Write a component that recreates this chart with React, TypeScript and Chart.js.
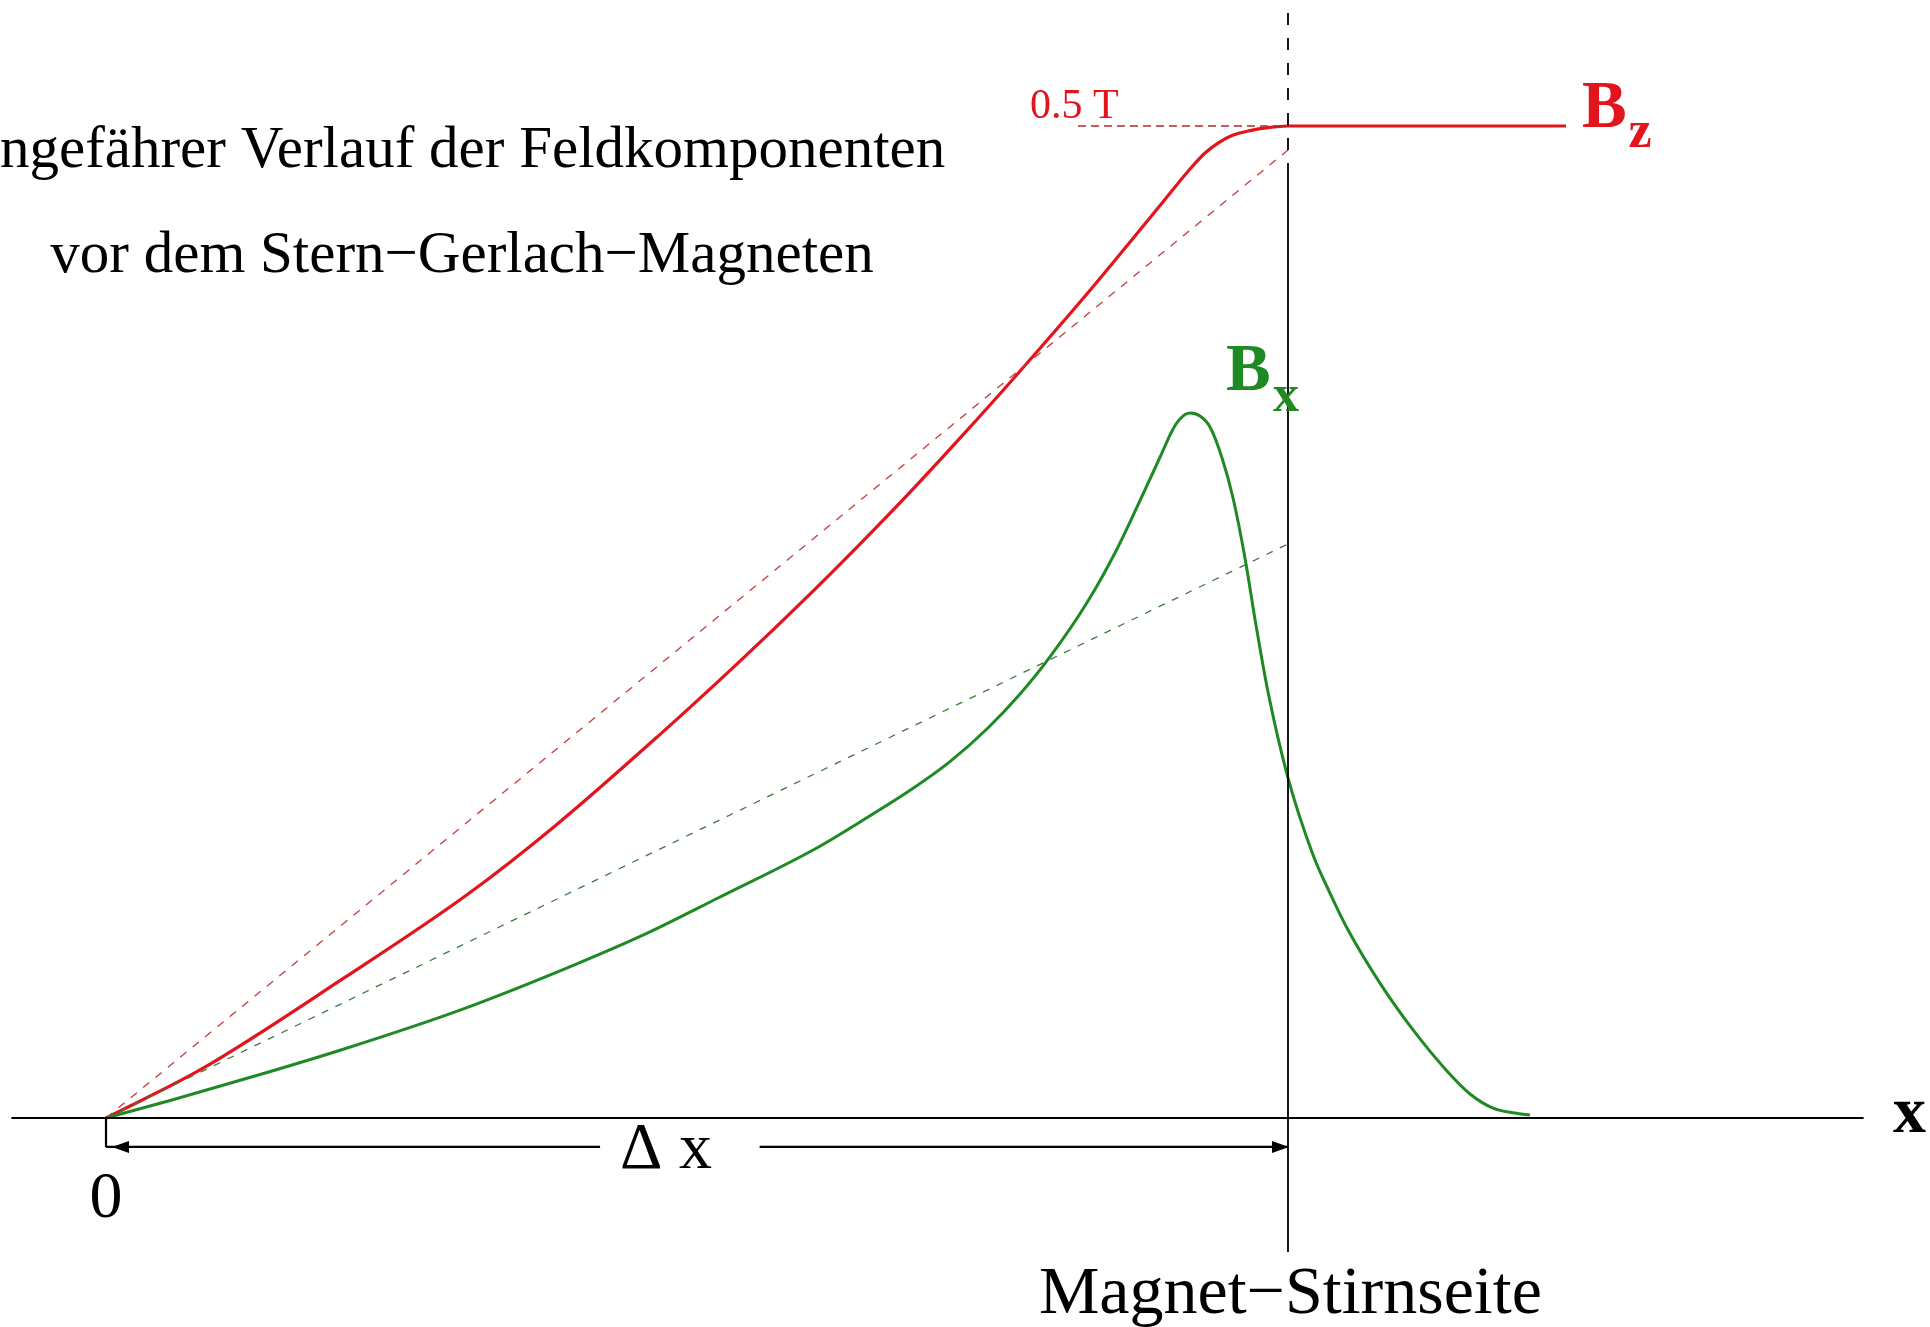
import React, { useEffect, useRef } from "react";
import { Chart, registerables } from "chart.js";

Chart.register(...registerables);

// x: distance in units of Δx (0 = origin, 1 = magnet face); y: field in tesla
const bzX = [0, 0.0795, 0.2014, 0.3063, 0.3799, 0.4662, 0.5355, 0.5956, 0.6387, 0.6819, 0.725, 0.7682, 0.8291, 0.8942, 0.9171, 0.9298, 0.9408, 0.9526, 0.9679, 0.9831, 1.0, 1.2352];
const bzY = [0, 0.0242, 0.0706, 0.1129, 0.1472, 0.192, 0.2298, 0.2641, 0.2898, 0.3165, 0.3443, 0.373, 0.4148, 0.4617, 0.4783, 0.4864, 0.4914, 0.4952, 0.4977, 0.4992, 0.5, 0.5];

const bxX = [0, 0.0558, 0.1303, 0.2014, 0.2995, 0.3959, 0.4602, 0.5178, 0.5998, 0.6379, 0.6819, 0.714, 0.747, 0.7733, 0.7986, 0.8308, 0.8536, 0.8731, 0.8926, 0.9019, 0.9086, 0.9171, 0.9255, 0.934, 0.9442, 0.9535, 0.9636, 0.9729, 0.9831, 1.0, 1.0212, 1.0355, 1.0499, 1.0778, 1.1058, 1.1345, 1.154, 1.1734, 1.192, 1.2047];
const bxY = [0, 0.0091, 0.0219, 0.0348, 0.0544, 0.0771, 0.0938, 0.1109, 0.1356, 0.1492, 0.1658, 0.1796, 0.1971, 0.2137, 0.2324, 0.2606, 0.2848, 0.309, 0.3342, 0.3463, 0.3523, 0.3553, 0.3538, 0.3483, 0.3327, 0.3125, 0.2823, 0.2485, 0.2147, 0.1714, 0.1326, 0.1134, 0.0958, 0.068, 0.0444, 0.0237, 0.0121, 0.005, 0.0025, 0.0015];

// tangent (dashed) lines at the origin
const bzTangentX = [0, 1];
const bzTangentY = [0, 0.4879];
const bxTangentX = [0, 1];
const bxTangentY = [0, 0.2893];

// 0.5 T reference line
const refX = [0.8223, 1.0];
const refY = [0.5, 0.5];

// axes and magnet face
const axisX = [-0.08, 1.487];
const axisY = [0, 0];
const faceDashX = [1, 1];
const faceDashY = [0.557, 0.4763];
const faceSolidX = [1, 1];
const faceSolidY = [0.4763, -0.0675];

// Δx dimension line
const dimY = -0.0146;
const dimTickX = [0, 0];
const dimTickY = [0, dimY];
const dimLeftX = [0, 0.418];
const dimRightX = [0.553, 1.0];

const X_MIN = -106 / 1182;
const X_MAX = (1930 - 106) / 1182;
const Y_MAX = 1118 / 1984;
const Y_MIN = (1118 - 1327) / 1984;

const SERIF = '"Liberation Serif", "Times New Roman", serif';
const RED = "#e2141c";
const GREEN = "#1f8a24";

const zip = (xs: number[], ys: number[]) => xs.map((x, i) => ({ x, y: ys[i] }));

type Label = { text: string; x: number; y: number; size: number; bold?: boolean; color: string; align: CanvasTextAlign };
const labels: Label[] = [
  { text: "ungefährer Verlauf der Feldkomponenten", x: 0.7100, y: 0.4793, size: 59, color: "#000", align: "right" },
  { text: "vor dem Stern\u2212Gerlach\u2212Magneten", x: 0.3012, y: 0.4264, size: 59, color: "#000", align: "center" },
  { text: "0.5 T", x: 0.7817, y: 0.504, size: 42, color: RED, align: "left" },
  { text: "B", x: 1.2487, y: 0.4995, size: 67, bold: true, color: RED, align: "left" },
  { text: "z", x: 1.2880, y: 0.4894, size: 52, bold: true, color: RED, align: "left" },
  { text: "B", x: 0.9475, y: 0.3669, size: 67, bold: true, color: GREEN, align: "left" },
  { text: "x", x: 0.9873, y: 0.3563, size: 52, bold: true, color: GREEN, align: "left" },
  { text: "x", x: 1.5118, y: -0.0071, size: 66, bold: true, color: "#000", align: "left" },
  { text: "0", x: 0, y: -0.0499, size: 66, color: "#000", align: "center" },
  { text: "\u0394 x", x: 0.4349, y: -0.0252, size: 66, color: "#000", align: "left" },
  { text: "Magnet\u2212Stirnseite", x: 1.002, y: -0.0983, size: 68, color: "#000", align: "center" },
];

const overlay = {
  id: "overlay",
  afterDatasetsDraw(chart: any) {
    const ctx = chart.ctx as CanvasRenderingContext2D;
    const xs = chart.scales.x;
    const ys = chart.scales.y;
    ctx.save();
    ctx.textBaseline = "alphabetic";
    for (const l of labels) {
      ctx.font = `${l.bold ? "bold " : ""}${l.size}px ${SERIF}`;
      ctx.fillStyle = l.color;
      ctx.textAlign = l.align;
      ctx.fillText(l.text, xs.getPixelForValue(l.x), ys.getPixelForValue(l.y));
    }
    // arrowheads of the Δx dimension line
    const yp = ys.getPixelForValue(dimY);
    const lx = xs.getPixelForValue(0) + 6;
    const rx = xs.getPixelForValue(1) + 1;
    ctx.fillStyle = "#000";
    ctx.beginPath();
    ctx.moveTo(lx, yp);
    ctx.lineTo(lx + 17, yp - 6);
    ctx.lineTo(lx + 17, yp + 6);
    ctx.closePath();
    ctx.fill();
    ctx.beginPath();
    ctx.moveTo(rx, yp);
    ctx.lineTo(rx - 17, yp - 6);
    ctx.lineTo(rx - 17, yp + 6);
    ctx.closePath();
    ctx.fill();
    ctx.restore();
  },
};

const seg = (xs: number[], ys: number[], color: string, width: number, dash: number[] = []) => ({
  data: zip(xs, ys),
  showLine: true,
  borderColor: color,
  borderWidth: width,
  borderDash: dash,
  pointRadius: 0,
  fill: false,
  tension: 0,
});

export default function App() {
  const ref = useRef<HTMLCanvasElement | null>(null);
  useEffect(() => {
    document.body.style.margin = "0";
    if (!ref.current) return;
    const chart = new Chart(ref.current, {
      type: "scatter",
      data: {
        datasets: [
          seg(axisX, axisY, "#000", 2.2),
          seg(faceDashX, faceDashY, "#000", 1.8, [12, 13]),
          seg(faceSolidX, faceSolidY, "#000", 1.8),
          seg(dimTickX, dimTickY, "#000", 2.2),
          seg(dimLeftX, [dimY, dimY], "#000", 2.2),
          seg(dimRightX, [dimY, dimY], "#000", 2.2),
          seg(bzTangentX, bzTangentY, "#c83a3c", 1.3, [8, 8]),
          seg(bxTangentX, bxTangentY, "#3f7a40", 1.3, [7, 8]),
          seg(refX, refY, "#b0282c", 1.5, [8, 5]),
          { ...seg(bxX, bxY, GREEN, 3.0), cubicInterpolationMode: "monotone" },
          { ...seg(bzX, bzY, RED, 3.2), cubicInterpolationMode: "monotone" },
        ] as any,
      },
      options: {
        animation: false,
        responsive: false,
        maintainAspectRatio: false,
        layout: { padding: 0 },
        scales: {
          x: { type: "linear", min: X_MIN, max: X_MAX, display: false },
          y: { type: "linear", min: Y_MIN, max: Y_MAX, display: false },
        },
        plugins: { legend: { display: false }, tooltip: { enabled: false } },
      },
      plugins: [overlay],
    });
    return () => chart.destroy();
  }, []);
  return (
    <div style={{ width: 1930, height: 1327, background: "#fff" }}>
      <canvas ref={ref} width={1930} height={1327} style={{ display: "block" }} />
    </div>
  );
}
